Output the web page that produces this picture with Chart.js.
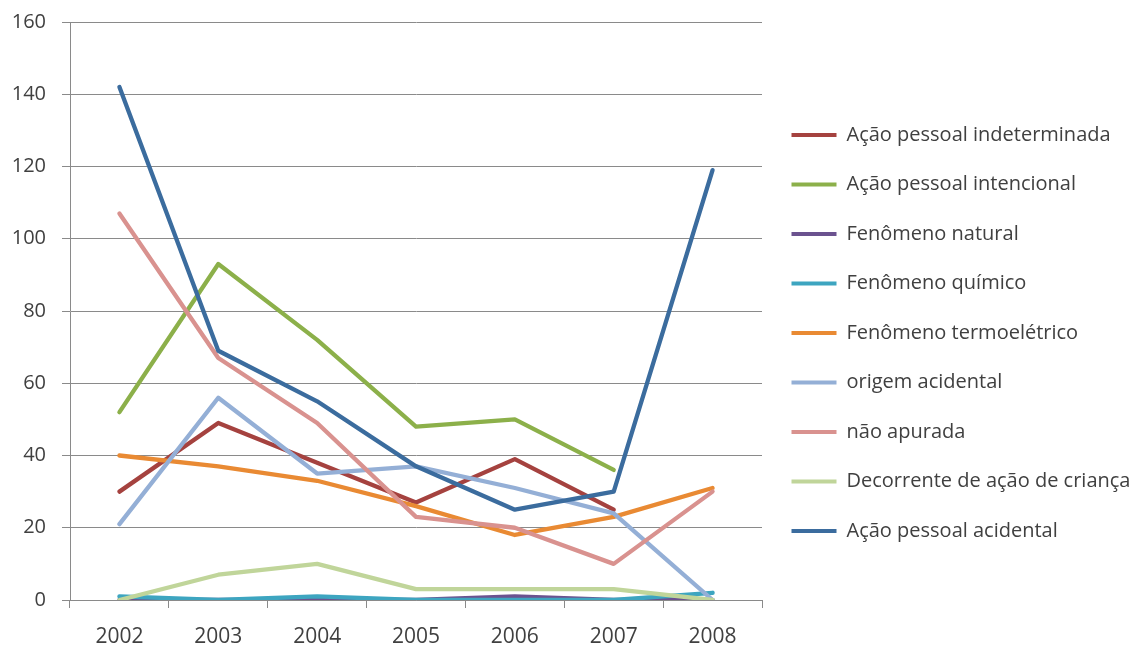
<!DOCTYPE html>
<html>
<head>
<meta charset="utf-8">
<script src="https://cdn.jsdelivr.net/npm/chart.js@4/dist/chart.umd.min.js"></script>
<style>
html,body{margin:0;padding:0;background:#fff;}
#wrap{width:1138px;height:645px;position:relative;}
</style>
</head>
<body>
<div id="wrap"><canvas id="c" width="1138" height="645"></canvas></div>
<script>
const years = ['2002','2003','2004','2005','2006','2007','2008'];
const seriesNames = [
  'Ação pessoal indeterminada',
  'Ação pessoal intencional',
  'Fenômeno natural',
  'Fenômeno químico',
  'Fenômeno termoelétrico',
  'origem acidental',
  'não apurada',
  'Decorrente de ação de criança',
  'Ação pessoal acidental'
];
const acaoIndeterminada = [30, 49, 38, 27, 39, 25, null];
const acaoIntencional   = [52, 93, 72, 48, 50, 36, null];
const fenNatural        = [0, 0, 0, 0, 1, 0, 0];
const fenQuimico        = [1, 0, 1, 0, 0, 0, 2];
const fenTermoeletrico  = [40, 37, 33, 26, 18, 23, 31];
const origemAcidental   = [21, 56, 35, 37, 31, 24, 0];
const naoApurada        = [107, 67, 49, 23, 20, 10, 30];
const decorrenteCrianca = [0, 7, 10, 3, 3, 3, 0];
const acaoAcidental     = [142, 69, 55, 37, 25, 30, 119];
const yTicks = [0, 20, 40, 60, 80, 100, 120, 140, 160];

const seriesValues = [acaoIndeterminada, acaoIntencional, fenNatural, fenQuimico, fenTermoeletrico, origemAcidental, naoApurada, decorrenteCrianca, acaoAcidental];
const colors = ['#A5423F','#8CB04A','#6B528F','#3DA5C0','#E98A33','#94AFD6','#D9928F','#C0D59A','#3B6C9E'];

const FONT = '"Open Sans", sans-serif';
const TEXT = '#404040';
const GRID = '#8a8a8a';

const datasets = seriesNames.map((name, i) => ({
  label: name,
  data: seriesValues[i],
  borderColor: colors[i],
  backgroundColor: colors[i],
  borderWidth: 4.3,
  pointRadius: 0,
  pointHoverRadius: 0,
  tension: 0,
  borderJoinStyle: 'round',
  borderCapStyle: 'round',
  order: seriesNames.length - i
}));

new Chart(document.getElementById('c'), {
  type: 'line',
  data: { labels: years, datasets },
  options: {
    responsive: false,
    animation: false,
    devicePixelRatio: 1,
    layout: { padding: { top: 22, bottom: 1, left: 0, right: 0 } },
    plugins: {
      tooltip: { enabled: false },
      legend: {
        position: 'right',
        align: 'center',
        maxWidth: 376,
        labels: {
          boxWidth: 45,
          boxHeight: 4,
          padding: 29.5,
          color: TEXT,
          font: { family: FONT, size: 20 },
          sort: (a, b) => a.datasetIndex - b.datasetIndex,
          generateLabels: (chart) => chart.data.datasets.map((ds, i) => ({
            text: ds.label,
            fillStyle: ds.borderColor,
            strokeStyle: ds.borderColor,
            lineWidth: 0,
            hidden: false,
            datasetIndex: i,
            fontColor: TEXT
          }))
        }
      }
    },
    scales: {
      x: {
        offset: true,
        afterFit: (s) => { s.height = 44; },
        grid: { display: true, drawOnChartArea: false, drawTicks: true, tickLength: 8, offset: true, color: GRID },
        border: { display: true, color: GRID },
        ticks: { color: TEXT, font: { family: FONT, size: 21 }, padding: 16, maxRotation: 0 }
      },
      y: {
        min: 0,
        max: 160,
        afterFit: (s) => { s.width = 70; s.paddingTop = 12; s.paddingBottom = 12; },
        afterBuildTicks: (s) => { s.ticks = yTicks.map(v => ({ value: v })); },
        grid: { color: GRID, tickLength: 8, drawTicks: true },
        border: { display: true, color: GRID },
        ticks: { color: TEXT, font: { family: FONT, size: 20 }, padding: 16 }
      }
    }
  }
});
</script>
</body>
</html>
